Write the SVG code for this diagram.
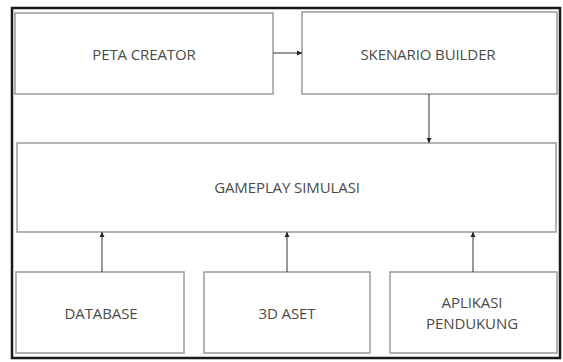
<svg xmlns="http://www.w3.org/2000/svg" width="563" height="362" viewBox="0 0 563 362">
<defs>
<style>
.box{fill:#fff;stroke:#9a9a9a;stroke-width:1.5}
.lbl{font-family:"Open Sans","Liberation Sans",sans-serif;font-size:15px;fill:#4a4a4a;text-anchor:middle;dominant-baseline:central;letter-spacing:-0.1px}
.con{stroke:#333;stroke-width:1;fill:none;marker-end:url(#ah)}
</style>
<marker id="ah" markerWidth="6" markerHeight="6" refX="5" refY="3" orient="auto" markerUnits="userSpaceOnUse">
<path d="M0,0.5 L5,3 L0,5.5 z" fill="#222"/>
</marker>
</defs>
<rect x="0" y="0" width="563" height="362" fill="#fff"/>
<rect x="12" y="8" width="548" height="350" fill="#fff" stroke="#1a1a1a" stroke-width="2.5"/>
<g id="peta-creator">
<rect class="box" x="15" y="13" width="258" height="81"/>
<text class="lbl" x="144" y="54">PETA CREATOR</text>
</g>
<g id="skenario-builder">
<rect class="box" x="302" y="12" width="255" height="82"/>
<text class="lbl" x="428" y="54">SKENARIO BUILDER</text>
</g>
<g id="gameplay-simulasi">
<rect class="box" x="17" y="143" width="539" height="89"/>
<text class="lbl" x="287" y="187">GAMEPLAY SIMULASI</text>
</g>
<g id="database">
<rect class="box" x="16" y="272" width="168" height="81"/>
<text class="lbl" x="101" y="313">DATABASE</text>
</g>
<g id="aset-3d">
<rect class="box" x="204" y="272" width="166" height="81"/>
<text class="lbl" x="287" y="313">3D ASET</text>
</g>
<g id="aplikasi-pendukung">
<rect class="box" x="390" y="272" width="167" height="81"/>
<text class="lbl" x="472" y="302">APLIKASI</text>
<text class="lbl" x="472" y="323">PENDUKUNG</text>
</g>
<g id="connectors">
<line class="con" x1="273" y1="53" x2="302" y2="53"/>
<line class="con" x1="429" y1="94" x2="429" y2="143"/>
<line class="con" x1="102" y1="272" x2="102" y2="232"/>
<line class="con" x1="287" y1="272" x2="287" y2="232"/>
<line class="con" x1="473" y1="272" x2="473" y2="232"/>
</g>
</svg>
